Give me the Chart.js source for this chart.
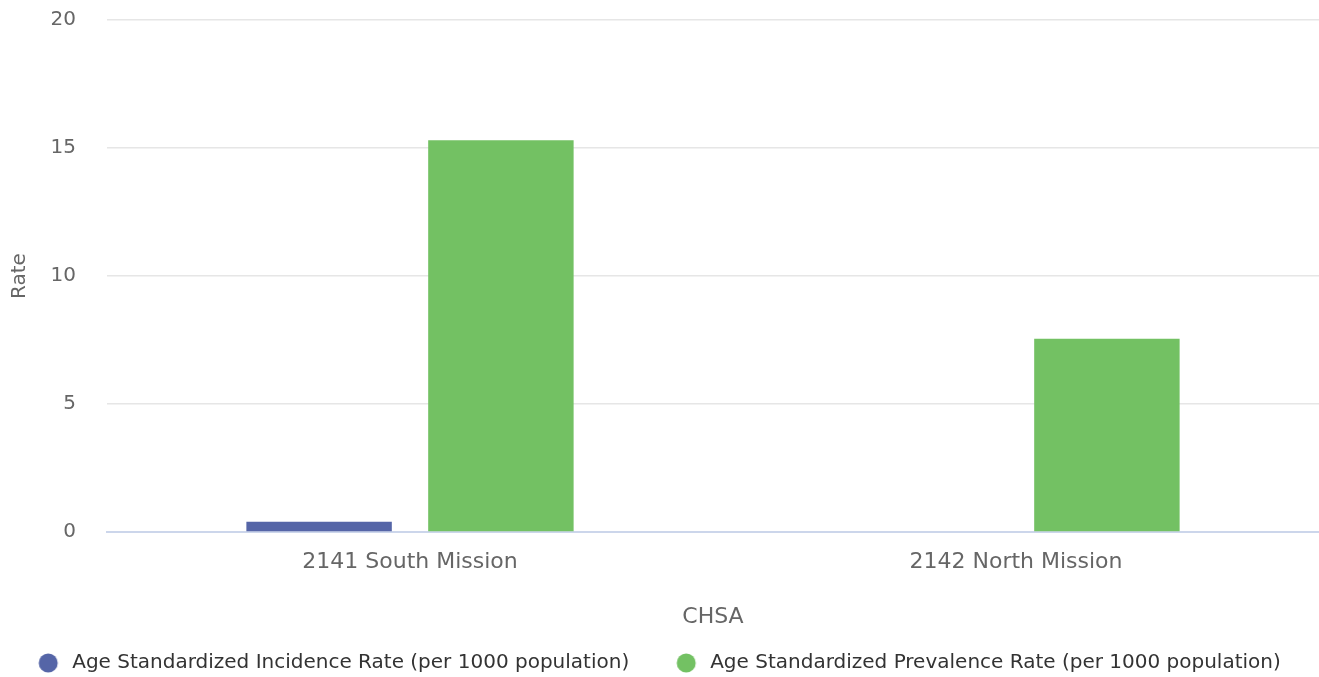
<!DOCTYPE html>
<html>
<head>
<meta charset="utf-8">
<script src="https://cdn.jsdelivr.net/npm/chart.js@4"></script>
<style>
  html, body { margin: 0; padding: 0; background: #fff; }
  #wrap { width: 1319px; height: 677px; }
</style>
</head>
<body>
<div id="wrap"><canvas id="grafica" width="1319" height="677"></canvas></div>
<script>
const categorias = ["2141 South Mission", "2142 North Mission"];
const incidencia = [0.4, null];
const prevalencia = [15.3, 7.55];
const ticksY = [0, 5, 10, 15, 20];

const fuente = "'DejaVu Sans', Verdana, sans-serif";

// marcador de leyenda: circulo en una caja un poco mas ancha
const anchoCaja = 43;
function marcador(color) {
  const c = document.createElement("canvas");
  c.width = anchoCaja;
  c.height = 20;
  const g = c.getContext("2d");
  g.fillStyle = color;
  g.beginPath();
  g.arc(anchoCaja - 14, 10, 9.5, 0, Math.PI * 2);
  g.fill();
  return c;
}

// la leyenda queda un poco corrida a la derecha, se recentra
const centrarLeyenda = {
  id: 'centrarLeyenda',
  afterLayout(chart) {
    if (chart.legend) chart.legend.left -= 19;
  }
};

const ctx = document.getElementById("grafica").getContext("2d");
new Chart(ctx, {
  type: 'bar',
  plugins: [centrarLeyenda],
  data: {
    labels: categorias,
    datasets: [{
      label: 'Age Standardized Incidence Rate (per 1000 population)',
      data: incidencia,
      backgroundColor: '#5565a7',
      pointStyle: marcador('#5565a7'),
      borderWidth: 0,
      categoryPercentage: 0.6,
      barPercentage: 0.8
    }, {
      label: 'Age Standardized Prevalence Rate (per 1000 population)',
      data: prevalencia,
      backgroundColor: '#73c163',
      pointStyle: marcador('#73c163'),
      borderWidth: 0,
      categoryPercentage: 0.6,
      barPercentage: 0.8
    }]
  },
  options: {
    responsive: false,
    animation: false,
    layout: { padding: { top: 0, right: 0, left: 0, bottom: -6 } },
    plugins: {
      tooltip: { enabled: false },
      legend: {
        position: 'bottom',
        labels: {
          usePointStyle: true,
          pointStyleWidth: anchoCaja,
          boxHeight: 20,
          padding: 28,
          color: '#333333',
          font: { family: fuente, size: 20 }
        }
      }
    },
    scales: {
      x: {
        grid: { display: false },
        border: { color: '#ccd6eb', width: 2 },
        ticks: { color: '#666666', padding: 9, font: { family: fuente, size: 22 } },
        title: {
          display: true, text: 'CHSA', color: '#666666',
          font: { family: fuente, size: 22 }, padding: { top: 18, bottom: -5 }
        },
        afterFit(scale) { scale.height = 93; }
      },
      y: {
        min: 0,
        max: 20,
        afterBuildTicks: function(axis) {
          axis.ticks = ticksY.map(v => ({ value: v }));
        },
        grid: { color: '#e6e6e6', drawTicks: false, lineWidth: 1.5 },
        border: { display: false },
        ticks: { color: '#666666', padding: 31, font: { family: fuente, size: 20 } },
        title: {
          display: true, text: 'Rate', color: '#666666',
          font: { family: fuente, size: 20 }, padding: { top: 8, bottom: 0 }
        },
        afterFit(scale) {
          scale.width = 107;
          scale.paddingTop = 20;
          scale.paddingBottom = 0;
        }
      }
    }
  }
});
</script>
</body>
</html>
